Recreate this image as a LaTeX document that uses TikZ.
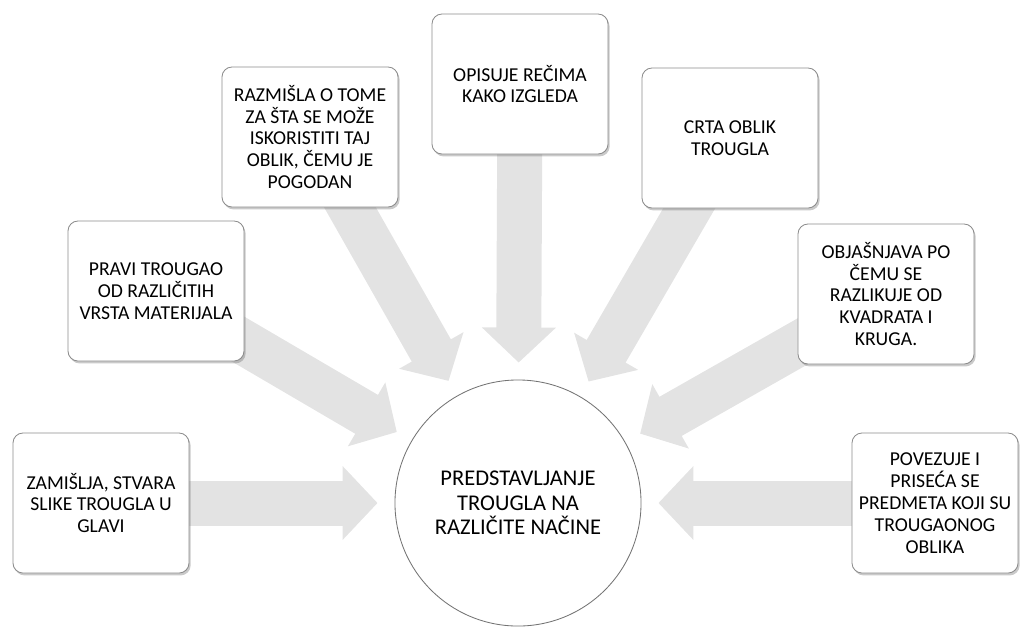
\documentclass[tikz,border=0pt]{standalone}
\usepackage{fontspec}
\setmainfont{Carlito}
\usetikzlibrary{arrows.meta,shadows,backgrounds}

\tikzset{
  task/.style={draw=black!45, line width=0.6pt, fill=white, rounded corners=0.25cm,
    minimum width=4.4cm, minimum height=3.5cm, align=center, inner sep=2pt,
    font=\fontsize{14}{15.6}\selectfont,
    drop shadow={shadow xshift=0.04cm, shadow yshift=-0.06cm, opacity=0.35, fill=black!60}},
  hub/.style={circle, draw=black!55, line width=0.6pt, fill=white, minimum size=6.15cm,
    align=center, font=\fontsize{16}{17.5}\selectfont},
  spoke/.style={line width=1.125cm, draw=black!11, shorten >=0.425cm,
    -{Triangle[length=0.875cm, width=1.8cm]}},
}

\begin{document}
\begin{tikzpicture}[x=0.025cm, y=-0.025cm]
\useasboundingbox (0,0) rectangle (1020,627);

% central circle
\node[hub] (hub) at (518,503) {PREDSTAVLJANJE\\TROUGLA NA\\RAZLIČITE NAČINE};

% activity boxes, left to right
\node[task] (zamislja) at (101,503) {ZAMIŠLJA, STVARA\\SLIKE TROUGLA U\\GLAVI};
\node[task] (pravi) at (156,291) {PRAVI TROUGAO\\OD RAZLIČITIH\\VRSTA MATERIJALA};
\node[task] (razmisla) at (310,137) {RAZMIŠLA O TOME\\ZA ŠTA SE MOŽE\\ISKORISTITI TAJ\\OBLIK, ČEMU JE\\POGODAN};
\node[task] (opisuje) at (520,84) {OPISUJE REČIMA\\KAKO IZGLEDA};
\node[task] (crta) at (730,138) {CRTA OBLIK\\TROUGLA};
\node[task] (objasnjava) at (886,294) {OBJAŠNJAVA PO\\ČEMU SE\\RAZLIKUJE OD\\KVADRATA I\\KRUGA.};
\node[task, minimum width=4.15cm] (povezuje) at (935,503) {POVEZUJE I\\PRISEĆA SE\\PREDMETA KOJI SU\\TROUGAONOG\\OBLIKA};

% block arrows towards the circle
\begin{scope}[on background layer]
\foreach \b in {zamislja,pravi,razmisla,opisuje,crta,objasnjava,povezuje}
  \draw[spoke] (\b.center) -- (hub);
\end{scope}

\end{tikzpicture}
\end{document}
